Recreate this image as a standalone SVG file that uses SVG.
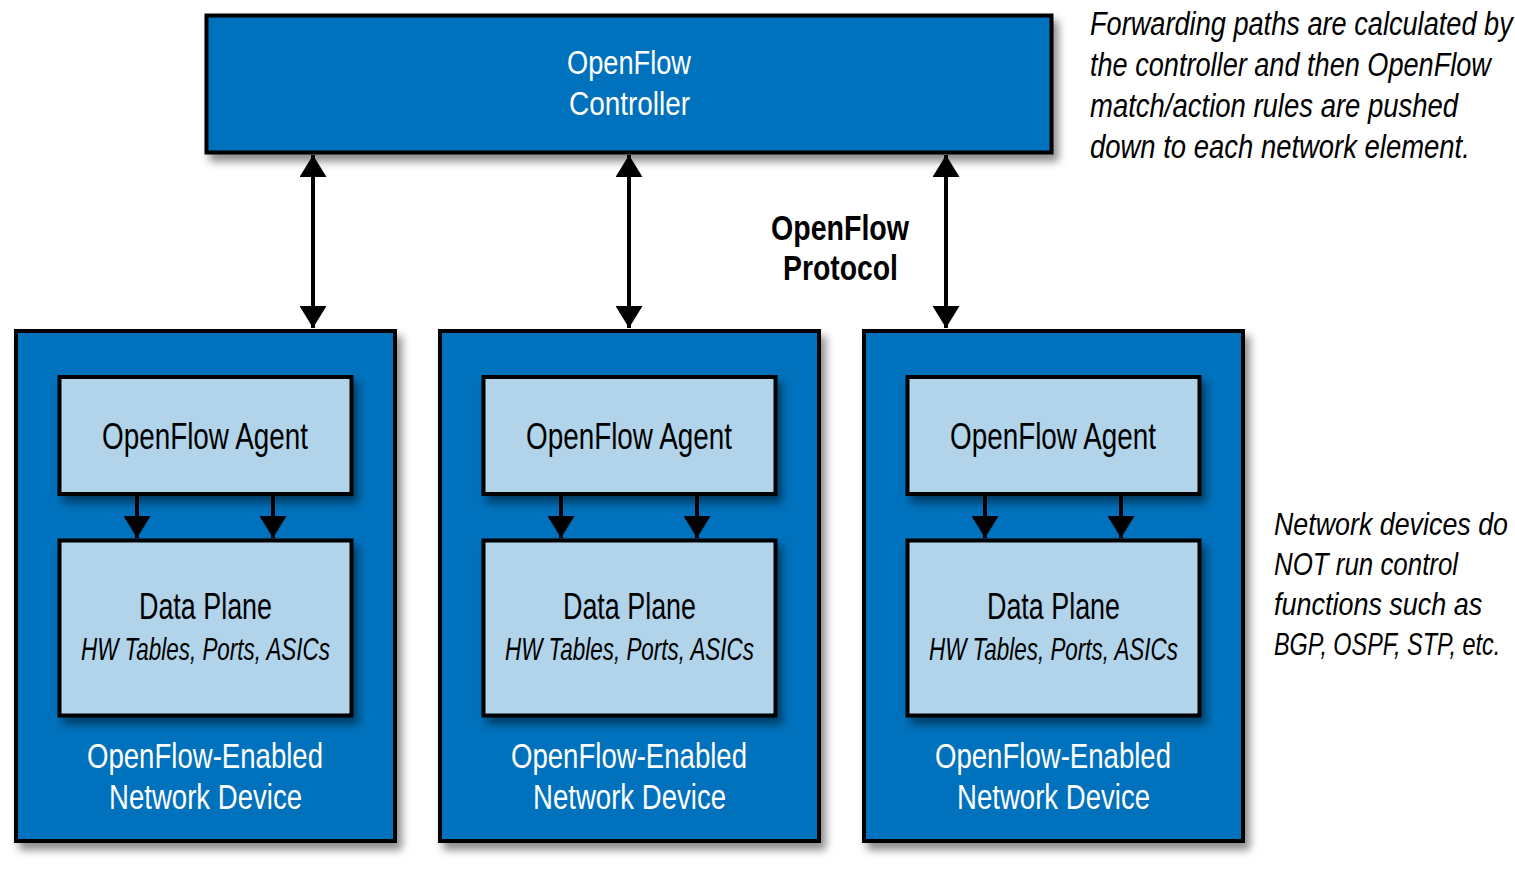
<svg xmlns="http://www.w3.org/2000/svg" width="1515" height="870" viewBox="0 0 1515 870">
<style>
text{font-family:"Liberation Sans Narrow","Liberation Sans",Arial,sans-serif}
.dark{fill:#0071BC;stroke:#000;stroke-width:4}
.light{fill:#B1D4EA;stroke:#000;stroke-width:4}
.w{fill:#fff}
.b{fill:#000}
.it{font-style:italic}
.bold{font-weight:bold}
.conn line{stroke:#000;stroke-width:4}
</style>
<defs>
<filter id="sh" x="-10%" y="-10%" width="130%" height="130%">
<feDropShadow dx="5" dy="7" stdDeviation="4" flood-color="#000" flood-opacity="0.45"/>
</filter>
<marker id="ah" viewBox="0 0 22 27" refX="22" refY="13.5" markerWidth="22" markerHeight="27" markerUnits="userSpaceOnUse" orient="auto-start-reverse">
<path d="M0,0 L22,13.5 L0,27 z" fill="#000"/>
</marker>
</defs>
<rect width="1515" height="870" fill="#fff"/>

<g id="controller">
<rect class="dark" x="206.5" y="15.5" width="845" height="137" filter="url(#sh)"/>
<text class="w" x="567" y="74" font-size="34" textLength="124" lengthAdjust="spacingAndGlyphs">OpenFlow</text>
<text class="w" x="569" y="115" font-size="34" textLength="121" lengthAdjust="spacingAndGlyphs">Controller</text>
</g>

<g id="device1">
<rect class="dark" x="16" y="331" width="379" height="510" filter="url(#sh)"/>
<g id="agent1">
<rect class="light" x="59.5" y="377" width="292" height="117" filter="url(#sh)"/>
<text class="b" x="102" y="449" font-size="37" textLength="206" lengthAdjust="spacingAndGlyphs">OpenFlow Agent</text>
</g>
<g id="data1">
<rect class="light" x="59.5" y="540.5" width="292" height="175" filter="url(#sh)"/>
<text class="b" x="139" y="619" font-size="36" textLength="133" lengthAdjust="spacingAndGlyphs">Data Plane</text>
<text class="b it" x="81" y="660" font-size="32" textLength="249" lengthAdjust="spacingAndGlyphs">HW Tables, Ports, ASICs</text>
</g>
<text class="w" x="87" y="768" font-size="35" textLength="236" lengthAdjust="spacingAndGlyphs">OpenFlow-Enabled</text>
<text class="w" x="109" y="809" font-size="35" textLength="193" lengthAdjust="spacingAndGlyphs">Network Device</text>
</g>

<g id="device2" transform="translate(424,0)">
<rect class="dark" x="16" y="331" width="379" height="510" filter="url(#sh)"/>
<g id="agent2">
<rect class="light" x="59.5" y="377" width="292" height="117" filter="url(#sh)"/>
<text class="b" x="102" y="449" font-size="37" textLength="206" lengthAdjust="spacingAndGlyphs">OpenFlow Agent</text>
</g>
<g id="data2">
<rect class="light" x="59.5" y="540.5" width="292" height="175" filter="url(#sh)"/>
<text class="b" x="139" y="619" font-size="36" textLength="133" lengthAdjust="spacingAndGlyphs">Data Plane</text>
<text class="b it" x="81" y="660" font-size="32" textLength="249" lengthAdjust="spacingAndGlyphs">HW Tables, Ports, ASICs</text>
</g>
<text class="w" x="87" y="768" font-size="35" textLength="236" lengthAdjust="spacingAndGlyphs">OpenFlow-Enabled</text>
<text class="w" x="109" y="809" font-size="35" textLength="193" lengthAdjust="spacingAndGlyphs">Network Device</text>
</g>

<g id="device3" transform="translate(848,0)">
<rect class="dark" x="16" y="331" width="379" height="510" filter="url(#sh)"/>
<g id="agent3">
<rect class="light" x="59.5" y="377" width="292" height="117" filter="url(#sh)"/>
<text class="b" x="102" y="449" font-size="37" textLength="206" lengthAdjust="spacingAndGlyphs">OpenFlow Agent</text>
</g>
<g id="data3">
<rect class="light" x="59.5" y="540.5" width="292" height="175" filter="url(#sh)"/>
<text class="b" x="139" y="619" font-size="36" textLength="133" lengthAdjust="spacingAndGlyphs">Data Plane</text>
<text class="b it" x="81" y="660" font-size="32" textLength="249" lengthAdjust="spacingAndGlyphs">HW Tables, Ports, ASICs</text>
</g>
<text class="w" x="87" y="768" font-size="35" textLength="236" lengthAdjust="spacingAndGlyphs">OpenFlow-Enabled</text>
<text class="w" x="109" y="809" font-size="35" textLength="193" lengthAdjust="spacingAndGlyphs">Network Device</text>
</g>

<g id="connectors" class="conn">
<line x1="313" y1="155" x2="313" y2="328" marker-start="url(#ah)" marker-end="url(#ah)"/>
<line x1="629" y1="155" x2="629" y2="328" marker-start="url(#ah)" marker-end="url(#ah)"/>
<line x1="946" y1="155" x2="946" y2="328" marker-start="url(#ah)" marker-end="url(#ah)"/>
<line x1="137" y1="496" x2="137" y2="538" marker-end="url(#ah)"/>
<line x1="273" y1="496" x2="273" y2="538" marker-end="url(#ah)"/>
<line x1="561" y1="496" x2="561" y2="538" marker-end="url(#ah)"/>
<line x1="697" y1="496" x2="697" y2="538" marker-end="url(#ah)"/>
<line x1="985" y1="496" x2="985" y2="538" marker-end="url(#ah)"/>
<line x1="1121" y1="496" x2="1121" y2="538" marker-end="url(#ah)"/>
</g>

<g id="protocol-label">
<text class="b bold" x="771" y="240" font-size="35" textLength="138" lengthAdjust="spacingAndGlyphs">OpenFlow</text>
<text class="b bold" x="783" y="280" font-size="35" textLength="115" lengthAdjust="spacingAndGlyphs">Protocol</text>
</g>

<g id="note-top" transform="translate(1090,0) scale(0.78,1)">
<text class="b it" x="0" y="35" font-size="33" textLength="542" lengthAdjust="spacingAndGlyphs">Forwarding paths are calculated by</text>
<text class="b it" x="0" y="76" font-size="33" textLength="514" lengthAdjust="spacingAndGlyphs">the controller and then OpenFlow</text>
<text class="b it" x="0" y="117" font-size="33" textLength="472" lengthAdjust="spacingAndGlyphs">match/action rules are pushed</text>
<text class="b it" x="0" y="158" font-size="33" textLength="487" lengthAdjust="spacingAndGlyphs">down to each network element.</text>
</g>

<g id="note-bottom" transform="translate(1274,0) scale(0.78,1)">
<text class="b it" x="0" y="535" font-size="32" textLength="300" lengthAdjust="spacingAndGlyphs">Network devices do</text>
<text class="b it" x="0" y="575" font-size="32" textLength="236" lengthAdjust="spacingAndGlyphs">NOT run control</text>
<text class="b it" x="0" y="615" font-size="32" textLength="267" lengthAdjust="spacingAndGlyphs">functions such as</text>
<text class="b it" x="0" y="655" font-size="32" textLength="290" lengthAdjust="spacingAndGlyphs">BGP, OSPF, STP, etc.</text>
</g>
</svg>
